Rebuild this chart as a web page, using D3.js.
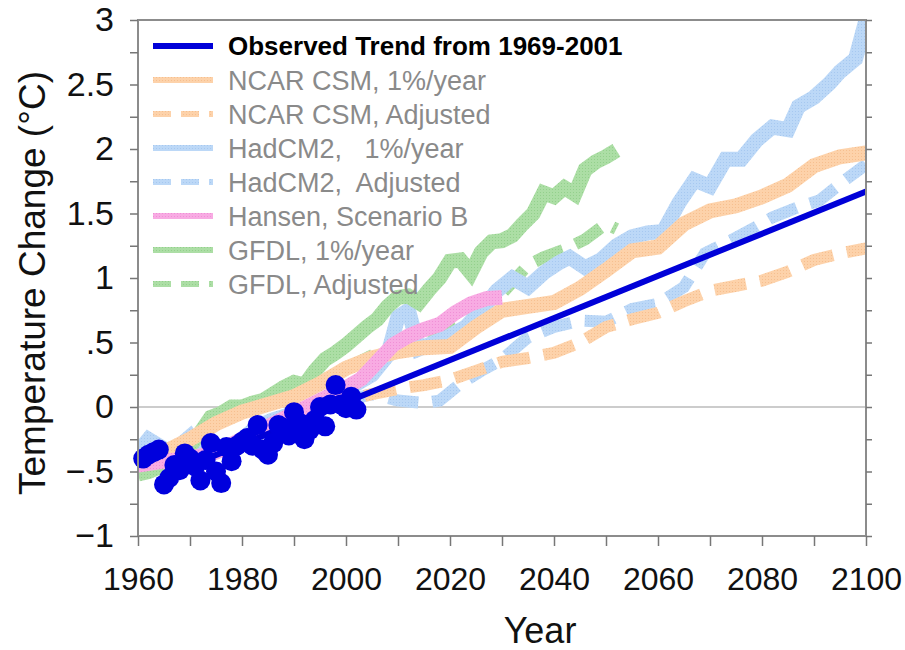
<!DOCTYPE html>
<html>
<head>
<meta charset="utf-8">
<script src="https://cdnjs.cloudflare.com/ajax/libs/d3/7.8.5/d3.min.js"></script>
<style>
  body { margin: 0; background: #fff; }
  svg { font-family: "Liberation Sans", Arial, sans-serif; }
</style>
</head>
<body>
<svg id="chart" width="905" height="650"></svg>
<script>
// observed annual anomalies [year, °C]
var observed = [
  [1961, -0.40], [1962, -0.37], [1963, -0.35], [1964, -0.33], [1965, -0.60],
  [1966, -0.55], [1967, -0.45], [1968, -0.49], [1969, -0.36], [1970, -0.40],
  [1971, -0.46], [1972, -0.57], [1973, -0.41], [1974, -0.28], [1975, -0.50],
  [1976, -0.59], [1977, -0.31], [1978, -0.42], [1979, -0.30], [1980, -0.27],
  [1981, -0.24], [1982, -0.30], [1983, -0.14], [1984, -0.33], [1985, -0.37],
  [1986, -0.28], [1987, -0.14], [1988, -0.16], [1989, -0.22], [1990, -0.04],
  [1991, -0.12], [1992, -0.25], [1993, -0.18], [1994, -0.10], [1995, 0.00],
  [1996, -0.15], [1997, 0.02], [1998, 0.17], [1999, 0.02], [2000, -0.01],
  [2001, 0.08], [2002, -0.02]
];

// linear trend fitted 1969-2001, extended to 2100
var trend = [[1969, -0.47], [2100, 1.67]];

var ncar = [
  [1960, -0.42], [1965, -0.35], [1970, -0.25], [1975, -0.13], [1980, -0.04],
  [1985, 0.02], [1990, 0.08], [1995, 0.18], [2000, 0.30], [2005, 0.38],
  [2010, 0.43], [2015, 0.46], [2020, 0.47], [2025, 0.62], [2030, 0.75],
  [2035, 0.78], [2040, 0.81], [2045, 0.92], [2050, 1.06], [2055, 1.21],
  [2060, 1.24], [2065, 1.42], [2070, 1.52], [2075, 1.56], [2080, 1.63],
  [2085, 1.72], [2090, 1.87], [2095, 1.94], [2100, 1.97]
];

var ncarAdj = [
  [1995, 0.00], [2000, 0.05], [2005, 0.10], [2010, 0.14], [2015, 0.17],
  [2020, 0.21], [2025, 0.28], [2030, 0.35], [2035, 0.38], [2040, 0.42],
  [2045, 0.50], [2050, 0.62], [2055, 0.68], [2060, 0.73], [2065, 0.82],
  [2070, 0.90], [2075, 0.94], [2080, 0.98], [2085, 1.05], [2090, 1.14],
  [2095, 1.19], [2100, 1.23]
];

var hadcm2 = [
  [1960, -0.35], [1962, -0.25], [1964, -0.30], [1966, -0.35], [1968, -0.30],
  [1970, -0.23], [1972, -0.35], [1975, -0.30], [1978, -0.35], [1980, -0.25],
  [1983, -0.15], [1986, -0.10], [1990, -0.05], [1993, 0.00], [1996, 0.05],
  [1999, 0.12], [2002, 0.18], [2005, 0.25], [2008, 0.40], [2010, 0.70],
  [2012, 0.75], [2014, 0.45], [2017, 0.50], [2020, 0.55], [2023, 0.62],
  [2026, 0.75], [2029, 0.90], [2032, 1.00], [2035, 0.93], [2038, 1.04],
  [2041, 1.12], [2043, 1.16], [2046, 1.08], [2049, 1.14], [2052, 1.25],
  [2055, 1.32], [2058, 1.35], [2061, 1.36], [2064, 1.58], [2067, 1.76],
  [2070, 1.71], [2073, 1.92], [2076, 1.92], [2079, 2.07], [2082, 2.17],
  [2085, 2.15], [2087, 2.33], [2090, 2.40], [2093, 2.51], [2095, 2.60],
  [2098, 2.70], [2100, 3.00]
];

var hadcm2Adj = [
  [2000, 0.05], [2005, 0.10], [2010, 0.05], [2015, 0.03], [2018, 0.05],
  [2022, 0.18], [2026, 0.28], [2030, 0.37], [2035, 0.54], [2040, 0.62],
  [2045, 0.67], [2050, 0.66], [2055, 0.76], [2060, 0.80], [2065, 0.93],
  [2069, 1.19], [2074, 1.29], [2079, 1.40], [2082, 1.47], [2087, 1.55],
  [2091, 1.60], [2096, 1.76], [2100, 1.88]
];

var hansen = [
  [1960, -0.45], [1965, -0.42], [1970, -0.40], [1975, -0.35], [1980, -0.25],
  [1985, -0.15], [1990, -0.05], [1995, 0.05], [2000, 0.15], [2003, 0.22],
  [2006, 0.35], [2009, 0.48], [2012, 0.55], [2015, 0.60], [2018, 0.64],
  [2021, 0.73], [2024, 0.80], [2027, 0.84], [2030, 0.85]
];

var gfdl = [
  [1960, -0.52], [1962, -0.50], [1965, -0.45], [1968, -0.35], [1970, -0.30],
  [1972, -0.20], [1974, -0.08], [1976, -0.05], [1978, 0.00], [1980, 0.00],
  [1982, 0.03], [1984, 0.05], [1986, 0.10], [1988, 0.15], [1990, 0.19],
  [1992, 0.17], [1994, 0.28], [1996, 0.37], [1998, 0.42], [2000, 0.48],
  [2002, 0.55], [2004, 0.62], [2006, 0.68], [2008, 0.78], [2010, 0.85],
  [2012, 0.86], [2014, 0.81], [2016, 0.91], [2018, 1.00], [2020, 1.13],
  [2022, 1.14], [2024, 1.04], [2026, 1.20], [2028, 1.28], [2030, 1.29],
  [2032, 1.33], [2034, 1.42], [2036, 1.50], [2038, 1.66], [2040, 1.63],
  [2042, 1.70], [2044, 1.65], [2046, 1.84], [2048, 1.90], [2050, 1.94],
  [2052, 1.99]
];

var gfdlAdj = [
  [2000, 0.30], [2005, 0.40], [2010, 0.50], [2015, 0.58], [2020, 0.65],
  [2025, 0.75], [2030, 0.88], [2035, 1.10], [2038, 1.16], [2042, 1.22],
  [2046, 1.30], [2050, 1.42], [2052, 1.38]
];

var legendLabels = [
  "Observed Trend from 1969-2001",
  "NCAR CSM, 1%/year",
  "NCAR CSM, Adjusted",
  "HadCM2,   1%/year",
  "HadCM2,  Adjusted",
  "Hansen, Scenario B",
  "GFDL, 1%/year",
  "GFDL, Adjusted"
];

var yTicks = [-1, -0.75, -0.5, -0.25, 0, 0.25, 0.5, 0.75, 1, 1.25, 1.5, 1.75, 2, 2.25, 2.5, 2.75, 3];
var xTicks = [1960, 1970, 1980, 1990, 2000, 2010, 2020, 2030, 2040, 2050, 2060, 2070, 2080, 2090, 2100];

var svg = d3.select('#chart');
var plotL = 138, plotR = 866, plotT = 20, plotB = 536;

var x = d3.scaleLinear().domain([1960, 2100]).range([plotL, plotR]);
var y = d3.scaleLinear().domain([-1, 3]).range([plotB, plotT]);

// screened texture for the model bands
var defs = svg.append('defs');
function screen(id, base, dot) {
  var p = defs.append('pattern').attr('id', id).attr('patternUnits', 'userSpaceOnUse')
    .attr('width', 3).attr('height', 3);
  p.append('rect').attr('width', 3).attr('height', 3).attr('fill', base);
  p.append('rect').attr('width', 1).attr('height', 1).attr('fill', dot);
}
screen('pOrange', '#fdd2aa', '#f6bf8f');
screen('pBlue', '#bcd8f7', '#a6c8f0');
screen('pPink', '#f8abe3', '#f08fd6');
screen('pGreen', '#acdea5', '#93d08c');

defs.append('clipPath').attr('id', 'plotClip')
  .append('rect').attr('x', plotL).attr('y', plotT).attr('width', plotR - plotL).attr('height', plotB - plotT);

// zero line
svg.append('line')
  .attr('x1', plotL).attr('x2', plotR).attr('y1', y(0)).attr('y2', y(0))
  .attr('stroke', '#9a9a9a').attr('stroke-width', 1.2);

var line = d3.line().x(function(d) { return x(d[0]); }).y(function(d) { return y(d[1]); });

var series = [
  { data: gfdlAdj, fill: 'url(#pGreen)', dash: '30,14', w: 12 },
  { data: hadcm2Adj, fill: 'url(#pBlue)', dash: '30,14', w: 12 },
  { data: ncarAdj, fill: 'url(#pOrange)', dash: '32,14', w: 12 },
  { data: hadcm2, fill: 'url(#pBlue)', dash: null, w: 15 },
  { data: gfdl, fill: 'url(#pGreen)', dash: null, w: 15 },
  { data: ncar, fill: 'url(#pOrange)', dash: null, w: 15 },
  { data: hansen, fill: 'url(#pPink)', dash: null, w: 15 }
];

var plot = svg.append('g').attr('clip-path', 'url(#plotClip)');

plot.selectAll('path.model')
  .data(series)
  .enter().append('path')
  .attr('class', 'model')
  .attr('d', function(d) { return line(d.data); })
  .attr('fill', 'none')
  .attr('stroke', function(d) { return d.fill; })
  .attr('stroke-width', function(d) { return d.w; })
  .attr('stroke-dasharray', function(d) { return d.dash; })
  .attr('stroke-linejoin', 'miter');

plot.append('path')
  .attr('d', line(trend))
  .attr('fill', 'none')
  .attr('stroke', '#0000d8')
  .attr('stroke-width', 6);

svg.append('g').selectAll('circle')
  .data(observed)
  .enter().append('circle')
  .attr('cx', function(d) { return x(d[0]); })
  .attr('cy', function(d) { return y(d[1]); })
  .attr('r', 10)
  .attr('fill', '#0000dd');

// frame
svg.append('rect')
  .attr('x', plotL).attr('y', plotT).attr('width', plotR - plotL).attr('height', plotB - plotT)
  .attr('fill', 'none').attr('stroke', '#8c8c8c').attr('stroke-width', 2);

function fmt(v) {
  if (v === 0) return '0';
  var s = String(Math.abs(v)).replace(/^0\./, '.');
  return (v < 0 ? '\u2212' : '') + s;
}

var yAxis = svg.append('g').attr('transform', 'translate(' + plotL + ',0)')
  .call(d3.axisLeft(y).tickValues(yTicks).tickSize(8).tickPadding(16)
    .tickFormat(function(d) { return (d * 2) % 1 === 0 ? fmt(d) : ''; }));
yAxis.select('.domain').remove();
yAxis.selectAll('line').attr('stroke', '#777').attr('stroke-width', 1.5);
yAxis.selectAll('text').attr('font-size', 34).attr('fill', '#111')
  .attr('font-family', '"Liberation Sans", Arial, sans-serif');

var yRight = svg.append('g').attr('transform', 'translate(' + plotR + ',0)')
  .call(d3.axisRight(y).tickValues(yTicks).tickSize(6).tickFormat(''));
yRight.select('.domain').remove();
yRight.selectAll('line').attr('stroke', '#777').attr('stroke-width', 1.5);

var xAxis = svg.append('g').attr('transform', 'translate(0,' + plotB + ')')
  .call(d3.axisBottom(x).tickValues(xTicks).tickSize(10).tickPadding(21)
    .tickFormat(function(d) { return d % 20 === 0 ? d : ''; }));
xAxis.select('.domain').remove();
xAxis.selectAll('line').attr('stroke', '#777').attr('stroke-width', 1.5);
xAxis.selectAll('text').attr('font-size', 32).attr('fill', '#111')
  .attr('font-family', '"Liberation Sans", Arial, sans-serif');

// axis titles
svg.append('text')
  .attr('transform', 'translate(45,283) rotate(-90)')
  .attr('text-anchor', 'middle')
  .attr('font-size', 37)
  .attr('fill', '#111')
  .text('Temperature Change (\u00b0C)');

svg.append('text')
  .attr('x', 540).attr('y', 643)
  .attr('text-anchor', 'middle')
  .attr('font-size', 36)
  .attr('fill', '#111')
  .text('Year');

// legend
var legendStyles = [
  { stroke: '#0000d8', dash: null, w: 6 },
  { stroke: 'url(#pOrange)', dash: null, w: 6 },
  { stroke: 'url(#pOrange)', dash: '18,10', w: 6 },
  { stroke: 'url(#pBlue)', dash: null, w: 6 },
  { stroke: 'url(#pBlue)', dash: '18,10', w: 6 },
  { stroke: 'url(#pPink)', dash: null, w: 6 },
  { stroke: 'url(#pGreen)', dash: null, w: 6 },
  { stroke: 'url(#pGreen)', dash: '18,10', w: 6 }
];

var legend = svg.append('g').selectAll('g')
  .data(legendLabels)
  .enter().append('g')
  .attr('transform', function(d, i) { return 'translate(0,' + (46 + i * 34) + ')'; });

legend.append('line')
  .attr('x1', 153).attr('x2', 213).attr('y1', 0).attr('y2', 0)
  .attr('stroke', function(d, i) { return legendStyles[i].stroke; })
  .attr('stroke-width', function(d, i) { return legendStyles[i].w; })
  .attr('stroke-dasharray', function(d, i) { return legendStyles[i].dash; });

legend.append('text')
  .attr('x', 228).attr('dy', '0.36em')
  .attr('font-size', function(d, i) { return i === 0 ? 26 : 27; })
  .attr('font-weight', function(d, i) { return i === 0 ? 'bold' : 'normal'; })
  .attr('fill', function(d, i) { return i === 0 ? '#000' : '#8a8a8a'; })
  .style('white-space', 'pre')
  .text(function(d) { return d; });
</script>
</body>
</html>
